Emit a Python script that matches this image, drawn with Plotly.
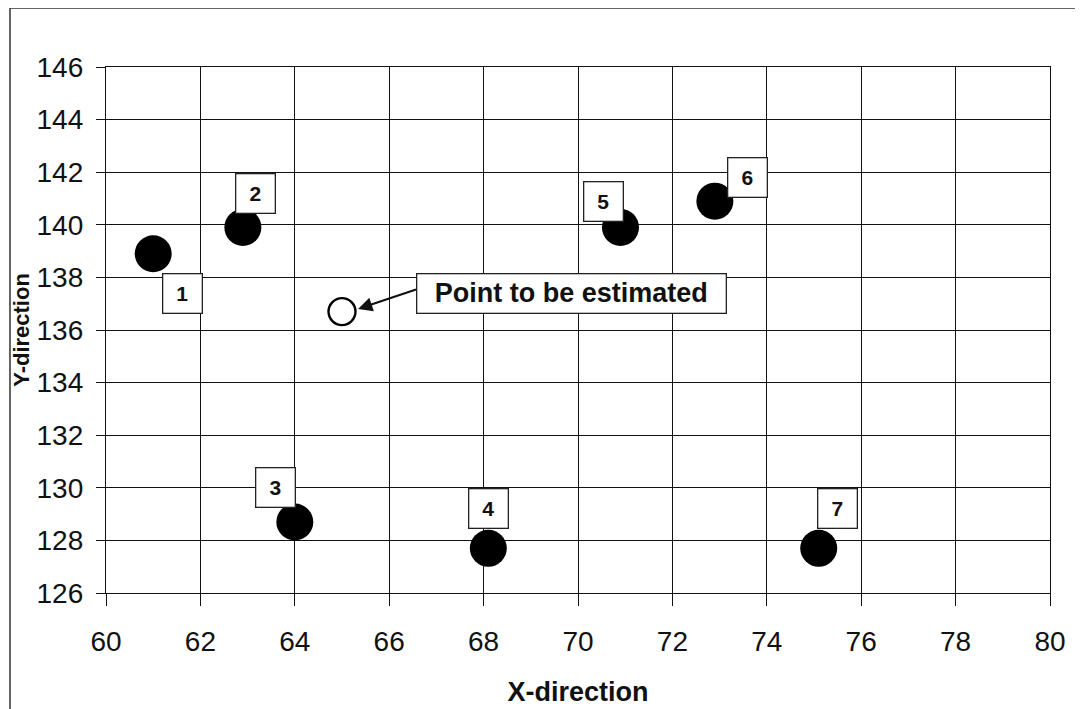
import plotly.graph_objects as go

# Data
point_ids = ["1", "2", "3", "4", "5", "6", "7"]
x_known = [61.0, 62.9, 64.0, 68.1, 70.9, 72.9, 75.1]
y_known = [138.9, 139.9, 128.7, 127.7, 139.9, 140.9, 127.7]
x_est = [65.0]
y_est = [136.7]
est_label = "Point to be estimated"
x_ticks = [60, 62, 64, 66, 68, 70, 72, 74, 76, 78, 80]
y_ticks = [126, 128, 130, 132, 134, 136, 138, 140, 142, 144, 146]

# label box offsets (data units) relative to each point
label_dx = [0.63, 0.26, -0.4, 0.0, -0.35, 0.7, 0.4]
label_dy = [-1.5, 1.3, 1.3, 1.5, 1.0, 0.9, 1.5]

FONT = "Liberation Sans, Arial, sans-serif"
INK = "#111"

fig = go.Figure()
fig.add_trace(go.Scatter(
    x=x_known, y=y_known, mode="markers",
    marker=dict(size=37, color="black", line=dict(width=0)),
    showlegend=False, hoverinfo="x+y"))
fig.add_trace(go.Scatter(
    x=x_est, y=y_est, mode="markers",
    marker=dict(size=27, color="white", line=dict(width=2.4, color="black")),
    showlegend=False, hoverinfo="x+y"))

annotations = []
for pid, xv, yv, dx, dy in zip(point_ids, x_known, y_known, label_dx, label_dy):
    annotations.append(dict(
        x=xv + dx, y=yv + dy, xref="x", yref="y", text="<b>%s</b>" % pid,
        showarrow=False, font=dict(family=FONT, size=21, color=INK),
        bgcolor="white", bordercolor="#222", borderwidth=1.3, borderpad=4,
        width=30, height=30))

# arrow from label box to estimated point
annotations.append(dict(
    x=x_est[0] + 0.34, y=y_est[0] + 0.1, xref="x", yref="y",
    ax=x_est[0] + 1.6, ay=y_est[0] + 0.86, axref="x", ayref="y",
    text="", showarrow=True, arrowhead=2, arrowsize=1.3, arrowwidth=2.2,
    arrowcolor=INK, standoff=0))
annotations.append(dict(
    x=x_est[0] + 4.87, y=y_est[0] + 0.7, xref="x", yref="y",
    text="<b>%s</b>" % est_label, showarrow=False,
    font=dict(family=FONT, size=27, color=INK),
    bgcolor="white", bordercolor="#222", borderwidth=1.3, borderpad=4,
    width=300, height=30))

fig.update_layout(
    width=1083, height=709,
    margin=dict(l=98, r=41, t=59, b=124),
    paper_bgcolor="white", plot_bgcolor="white",
    annotations=annotations,
    shapes=[dict(type="rect", xref="paper", yref="paper",
                 x0=-0.1017, x1=1.1, y0=-0.3, y1=1.112,
                 line=dict(color="#333", width=1.5), layer="below")],
    font=dict(family=FONT),
)
fig.update_xaxes(
    range=[60, 80], tickvals=x_ticks, ticktext=[str(t) for t in x_ticks],
    showgrid=True, gridcolor=INK, gridwidth=1.3,
    showline=True, linecolor=INK, linewidth=1.3, mirror=True,
    ticks="outside", ticklen=12, tickcolor=INK, tickwidth=1.3,
    tickfont=dict(family=FONT, size=28, color=INK), ticklabelstandoff=11,
    zeroline=False,
    title=dict(text="<b>X-direction</b>", font=dict(family=FONT, size=27, color=INK), standoff=26))
fig.update_yaxes(
    range=[126, 146], tickvals=y_ticks, ticktext=[str(t) for t in y_ticks],
    showgrid=True, gridcolor=INK, gridwidth=1.3,
    showline=True, linecolor=INK, linewidth=1.3, mirror=True,
    ticks="outside", ticklen=9, tickcolor=INK, tickwidth=1.3,
    tickfont=dict(family=FONT, size=28, color=INK), ticklabelstandoff=7,
    zeroline=False,
    title=dict(text="<b>Y-direction</b>", font=dict(family=FONT, size=22, color=INK), standoff=0))

fig.write_html("out.html")
